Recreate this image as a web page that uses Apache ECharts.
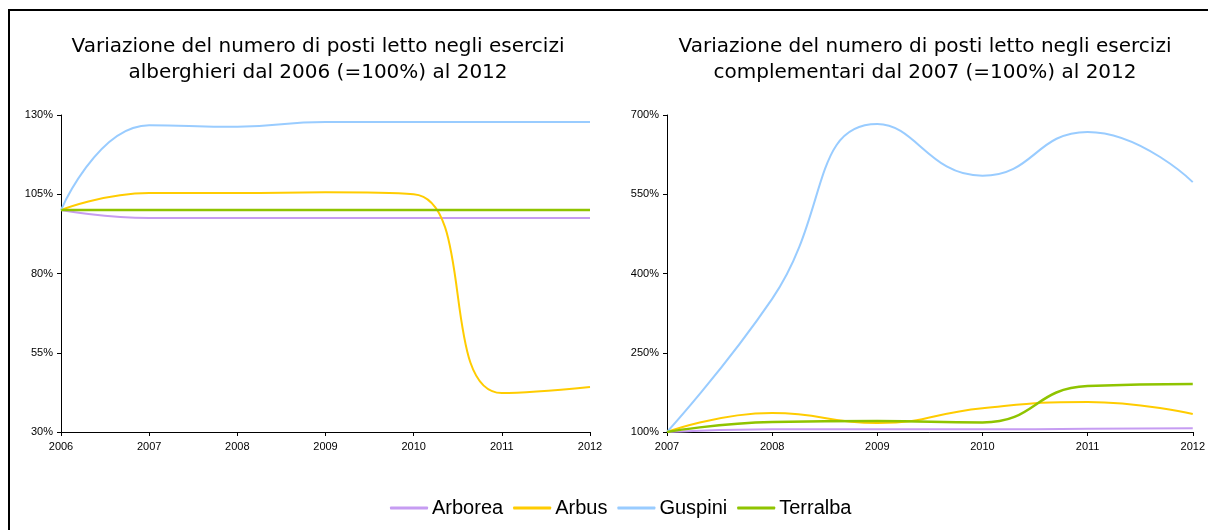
<!DOCTYPE html>
<html>
<head>
<meta charset="utf-8">
<script src="https://cdn.jsdelivr.net/npm/echarts@6/dist/echarts.min.js"></script>
<style>
html, body { margin: 0; padding: 0; background: #fff; }
#chart { width: 1208px; height: 530px; }
</style>
</head>
<body>
<div id="chart"></div>
<script>
// anni
var yearsA = ['2006', '2007', '2008', '2009', '2010', '2011', '2012'];
var yearsB = ['2007', '2008', '2009', '2010', '2011', '2012'];

// alberghieri, 2006 = 100
var arboreaA = [100, 97.5, 97.5, 97.5, 97.5, 97.5, 97.5];
var arbusA = [100, 105.4, 105.4, 105.6, 105, 42.3, 44.2];
var guspiniA = [100, 126.8, 126.3, 127.8, 127.8, 127.8, 127.8];
var terralbaA = [100, 100, 100, 100, 100, 100, 100];

// complementari, 2007 = 100
var arboreaB = [100, 105, 105, 105, 106, 107];
var arbusB = [100, 136, 117, 145, 157, 134];
var guspiniB = [100, 352, 683, 585, 668, 573];
var terralbaB = [100, 119, 121, 118, 187, 191];

var ticksA = [30, 55, 80, 105, 130];
var ticksB = [100, 250, 400, 550, 700];

var names = ['Arborea', 'Arbus', 'Guspini', 'Terralba'];
var colors = ['#c69cf2', '#ffcc00', '#99ccff', '#8fc400'];

var axisFont = { color: '#000', fontSize: 11, fontFamily: 'Liberation Sans' };

function mkSeries(name, data, idx, col) {
	return {
		name: name,
		type: 'line',
		xAxisIndex: idx,
		yAxisIndex: idx,
		data: data,
		smooth: 0.5,
		symbol: 'none',
		lineStyle: { width: name == 'Terralba' ? 2.5 : 2, color: col },
		itemStyle: { color: col }
	};
}

function yAxis(idx, ticks) {
	return {
		type: 'value',
		gridIndex: idx,
		min: ticks[0],
		max: ticks[ticks.length - 1],
		splitLine: { show: false },
		axisLine: { show: true, lineStyle: { color: '#000', width: 1 } },
		axisTick: { show: true, length: 4, lineStyle: { color: '#000' }, customValues: ticks },
		axisLabel: Object.assign({ formatter: '{value}%', margin: 8, customValues: ticks }, axisFont)
	};
}

function xAxis(idx, cats) {
	return {
		type: 'category',
		gridIndex: idx,
		data: cats,
		boundaryGap: false,
		axisLine: { lineStyle: { color: '#000', width: 1 } },
		axisTick: { length: 4, lineStyle: { color: '#000' } },
		axisLabel: Object.assign({ margin: 9 }, axisFont)
	};
}

var titleFont = { fontSize: 20, fontWeight: 'normal', color: '#000', fontFamily: 'DejaVu Sans', lineHeight: 26 };

var chart = echarts.init(document.getElementById('chart'));
chart.setOption({
	backgroundColor: '#fff',
	animation: false,
	graphic: [{
		type: 'rect',
		shape: { x: 9, y: 10, width: 1400, height: 700 },
		style: { fill: 'none', stroke: '#000', lineWidth: 2 },
		silent: true
	}],
	title: [{
		text: 'Variazione del numero di posti letto negli esercizi\nalberghieri dal 2006 (=100%) al 2012',
		left: 313, top: 29, textAlign: 'center',
		textStyle: titleFont
	}, {
		text: 'Variazione del numero di posti letto negli esercizi\ncomplementari dal 2007 (=100%) al 2012',
		left: 920, top: 29, textAlign: 'center',
		textStyle: titleFont
	}],
	legend: {
		bottom: 7,
		left: 385,
		data: names,
		icon: 'roundRect',
		itemWidth: 38,
		itemHeight: 3,
		itemGap: 10,
		textStyle: { fontSize: 20, color: '#000', fontFamily: 'Liberation Sans', padding: [0, 0, 0, -1] }
	},
	grid: [
		{ left: 61, right: 618, top: 115, bottom: 98 },
		{ left: 667, right: 12, top: 115, bottom: 98 }
	],
	xAxis: [xAxis(0, yearsA), xAxis(1, yearsB)],
	yAxis: [yAxis(0, ticksA), yAxis(1, ticksB)],
	color: colors,
	series: [
		mkSeries('Arborea', arboreaA, 0, colors[0]),
		mkSeries('Arbus', arbusA, 0, colors[1]),
		mkSeries('Guspini', guspiniA, 0, colors[2]),
		mkSeries('Terralba', terralbaA, 0, colors[3]),
		mkSeries('Arborea', arboreaB, 1, colors[0]),
		mkSeries('Arbus', arbusB, 1, colors[1]),
		mkSeries('Guspini', guspiniB, 1, colors[2]),
		mkSeries('Terralba', terralbaB, 1, colors[3])
	]
});
</script>
</body>
</html>
